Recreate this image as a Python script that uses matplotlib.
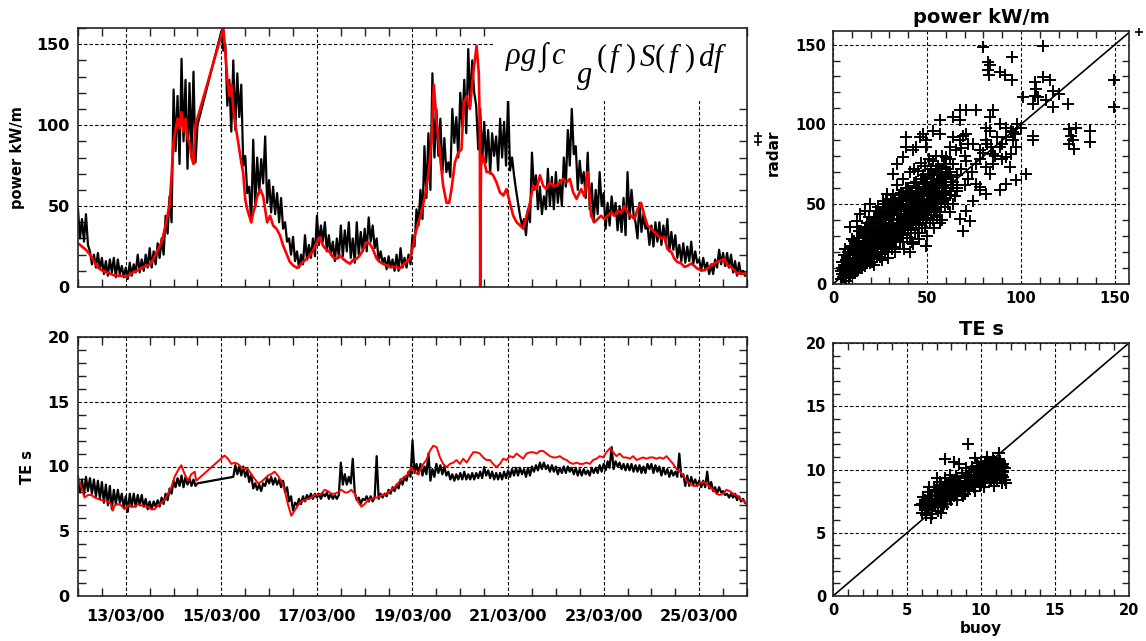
import numpy as np
import matplotlib
matplotlib.use('Agg')
import matplotlib.pyplot as plt
from matplotlib.ticker import MultipleLocator, FixedLocator
from matplotlib.patches import Rectangle

plt.rcParams['font.family'] = ['DejaVu Sans']
plt.rcParams['font.weight'] = 'bold'
plt.rcParams['mathtext.fontset'] = 'custom'
plt.rcParams['mathtext.it'] = 'Liberation Serif:italic:normal'
plt.rcParams['mathtext.rm'] = 'Liberation Serif:normal'
plt.rcParams['mathtext.fallback'] = 'stix'

nan = np.nan

# time axis: hours since 12/03/00 00:00
date_ticks = [24, 72, 120, 168, 216, 264, 312]
date_labels = ['13/03/00', '15/03/00', '17/03/00', '19/03/00',
               '21/03/00', '23/03/00', '25/03/00']

# buoy wave power (kW/m), hourly, one row per day, nan = no data
buoy_power = [
    48, 30, 42, 28, 45, 26, 22, 14, 20, 12, 21, 11, 18, 8, 16, 7, 17, 9, 18, 6, 17, 8, 13, 6,
    12, 5, 15, 7, 14, 9, 20, 9, 17, 10, 20, 12, 24, 12, 22, 14, 27, 18, 30, 20, 44, 33, 56, 40,
    122, 84, 118, 76, 141, 90, 128, 73, 126, 82, 133, 77, 100,
    nan, nan, nan, nan, nan, nan, nan, nan, nan, nan, nan,
    158, 146, 150, 112, 128, 96, 140, 97, 132, 105, 125, 75, 81, 58, 62, 40, 91, 50, 80, 58, 79, 64, 93, 52,
    66, 46, 62, 45, 58, 40, 55, 36, 40, 28, 30, 20, 31, 16, 22, 12, 20, 14, 32, 17, 26, 18, 30, 19,
    44, 26, 38, 28, 40, 22, 32, 20, 28, 16, 30, 18, 38, 19, 35, 22, 40, 18, 30, 15, 40, 20, 34, 22,
    36, 22, 43, 28, 38, 24, 30, 16, 22, 15, 18, 11, 19, 12, 17, 10, 20, 10, 24, 12, 18, 12, 20, 14,
    32, 25, 48, 38, 60, 42, 87, 55, 95, 60, 132, 80, 110, 81, 104, 70, 92, 71, 77, 68, 110, 89, 105, 80,
    120, 99, 128, 95, 147, 112, 140, 120, 112, 85, 110, 78, 102, 77, 97, 70, 95, 81, 93, 72, 104, 80, 102, 75,
    117, 72, 80, 69, 60, 52, 44, 38, 42, 32, 48, 40, 83, 60, 69, 48, 62, 45, 56, 48, 73, 50, 68, 48,
    71, 52, 66, 50, 80, 62, 97, 75, 110, 82, 87, 60, 78, 64, 71, 55, 83, 48, 64, 40, 60, 45, 71, 50,
    58, 36, 52, 38, 56, 45, 52, 35, 50, 34, 55, 32, 71, 42, 60, 45, 40, 30, 52, 34, 45, 36, 38, 26,
    38, 25, 40, 28, 40, 26, 38, 28, 42, 22, 34, 23, 32, 18, 26, 16, 27, 15, 25, 16, 28, 14, 22, 15,
    17, 10, 18, 11, 15, 8, 14, 8, 17, 12, 23, 14, 21, 13, 21, 12, 20, 9, 16, 7, 15, 8, 10, 7]

# radar wave power (kW/m)
radar_power_hours = [
    0, 2, 4, 6, 8, 10, 12, 14, 16, 18, 20, 22, 24, 26, 28, 30, 32, 34, 36, 38,
    40, 42, 44, 46, 47, 48, 49, 50, 51, 52, 53, 54, 55, 56, 57, 58, 59, 73, 74, 75,
    76, 77, 78, 79, 80, 81, 82, 83, 84, 85, 86, 87, 88, 89, 90, 91.5, 93, 94, 95, 96.5,
    98, 99.7, 101.4, 103, 105, 106.4, 108, 110, 111.5, 113, 115, 116.5, 118, 120, 121.5,
    123, 125, 126.5, 128, 130, 131.5, 133, 135, 136.6, 138, 140, 141.6, 143, 145, 146.6,
    148, 150, 151.6, 153, 155, 156.6, 158, 160, 161.6, 163, 165, 166.7, 168.4, 169.2, 171,
    172.5, 174.2, 176, 177.6, 178.7, 180, 181.8, 183.4, 185.1, 186.4, 187.6, 189.3, 191,
    192.6, 193.8, 195.2, 196.8, 198.5, 200.2, 201.3, 201.8, 202.0, 202.4, 203.5, 205.2,
    206.9, 208.5, 210.2, 211.9, 213.6, 215.2, 216.9, 218.6, 220.3, 222, 223.6, 225.3, 227,
    228.6, 230.3, 232, 233.6, 235.3, 237, 238.7, 240.3, 242, 243.7, 245.4, 247, 248.7,
    250.4, 252.7, 254.3, 256, 257.7, 259.4, 261, 262.7, 264.4, 266, 267.7, 269.4, 271,
    272.8, 274.4, 276, 277.8, 279.5, 281, 282.8, 284.5, 286, 287.8, 289.5, 291, 293,
    294.5, 296, 298, 299.5, 301, 303, 304.6, 306, 308, 309.6, 311, 313, 314.6, 316, 318,
    319.6, 321, 323, 324.6, 326, 328, 329.7, 331, 333, 334.7, 336]
radar_power = [
    27, 25, 23, 20, 16, 12, 10.3, 9.3, 8.3, 7.3, 7, 6.9, 6.2, 7.7, 9.3, 10.3, 11.8, 13, 13.8, 17.5,
    22.6, 27.8, 38, 51, 69, 90, 97, 104, 98, 108, 96, 104, 92, 89, 80, 76, 100, 160, 145, 128,
    118, 125, 110, 100, 93, 85, 77, 70, 54, 48, 44, 40, 46, 50, 56, 60.5, 56, 48, 40, 44,
    38, 36, 32, 25.7, 19.6, 15.5, 13.4, 11.8, 13.4, 15.5, 17.5, 19.6, 22.6, 27.8, 30.8,
    25.7, 22.6, 21.6, 18.5, 17.5, 19.6, 17.5, 15.5, 14.4, 16.5, 17.5, 19.6, 22.6, 27.8, 26.7,
    23.6, 17.5, 15.5, 14.4, 13.4, 12.4, 12.4, 12.4, 11.4, 13.4, 15.5, 17.5, 25.7, 32, 40,
    46, 56, 69, 91, 125, 103.6, 81, 62.6, 52, 52, 60.5, 77, 83,
    85, 114, 118, 110, 132, 149, 132, 98, 0, 75, 81, 71,
    71, 69, 64.6, 58.5, 56.5, 60.5, 52, 44, 40, 38, 36, 44, 52,
    62.6, 60.5, 69, 62.6, 60.5, 64.6, 62.6, 62.6, 64.6, 66.7, 64.6, 66.7, 58.5,
    54.4, 60.5, 56, 71, 44, 40, 42, 44, 42, 44, 46, 44, 47,
    46, 50, 46, 44, 42, 48, 52, 44, 38, 36, 34, 32, 30,
    31, 23.6, 21.6, 17.5, 15.5, 14.5, 12.4, 13, 14.5, 13, 11.4, 10.3, 10.3, 11.4, 13.4,
    14.5, 15.5, 16.5, 17.5, 13.4, 12.4, 10.3, 8.3, 8.3, 8.3, 8.3]

# buoy energy period TE (s), hourly, one row per day, nan = no data
buoy_te = [
    9.2, 8.0, 9.0, 7.8, 9.2, 8.1, 9.1, 7.9, 9.0, 7.7, 8.9, 7.5, 8.8, 7.2, 8.6, 7.0, 8.5, 6.7, 8.2, 7.1, 8.2, 7.2, 7.9, 6.8,
    7.7, 6.5, 7.9, 6.9, 7.9, 6.9, 7.8, 7.0, 7.8, 6.9, 7.5, 6.7, 7.3, 6.7, 7.3, 6.9, 7.4, 6.9, 7.6, 7.1, 7.9, 7.4, 8.3, 7.9,
    8.9, 8.4, 9.1, 8.5, 9.3, 8.4, 9.2, 8.6, 9.1, 8.5, 9.0, 8.5, 8.7,
    nan, nan, nan, nan, nan, nan, nan, nan, nan, nan, nan,
    nan, nan, nan, nan, nan, nan,
    9.2, 10.1, 9.4, 10.0, 9.3, 10.0, 9.2, 9.7, 8.8, 9.4, 8.3, 8.7, 8.2, 8.6, 8.1, 8.7, 8.5, 9.1,
    8.7, 9.2, 8.6, 9.1, 8.6, 9.0, 8.4, 8.9, 8.0, 8.4, 7.3, 7.7, 6.6, 7.2, 7.0, 7.5, 7.1, 7.7, 7.3, 7.8, 7.5, 7.9, 7.5, 7.9,
    7.6, 7.9, 7.5, 7.9, 7.7, 8.0, 7.5, 7.9, 7.5, 7.8, 7.5, 7.8, 10.3, 8.6, 9.4, 8.6, 9.2, 8.7, 10.6, 8.0, 7.4, 7.6, 7.1, 7.5,
    7.4, 7.7, 7.3, 7.7, 7.3, 7.6, 10.8, 7.5, 7.9, 7.6, 7.9, 7.7, 8.2, 7.9, 8.4, 8.1, 8.6, 8.3, 9.0, 8.6, 9.2, 8.9, 9.6, 9.2,
    12.0, 9.5, 10.2, 9.4, 10.2, 9.3, 10.0, 9.4, 11.0, 8.9, 9.8, 9.2, 10.2, 9.5, 10.1, 9.4, 10.0, 9.3, 9.6, 9.0, 9.4, 8.9, 9.4, 9.0,
    9.5, 9.0, 9.6, 9.0, 9.4, 9.0, 9.5, 9.0, 9.5, 9.1, 9.6, 9.1, 9.95, 9.3, 9.7, 9.1, 9.6, 9.0, 9.5, 9.0, 9.5, 9.0, 9.6, 9.1,
    9.7, 9.2, 9.8, 9.3, 9.9, 9.3, 9.9, 9.4, 9.8, 9.2, 9.9, 9.3, 10.0, 9.6, 10.1, 9.7, 10.3, 9.8, 10.3, 9.8, 10.1, 9.6, 10.1, 9.6,
    10.0, 9.4, 9.9, 9.5, 10.0, 9.5, 10.0, 9.6, 9.9, 9.4, 9.9, 9.3, 9.8, 9.3, 9.8, 9.4, 9.7, 9.3, 9.9, 9.5, 9.9, 9.5, 10.1, 9.6,
    10.2, 9.7, 10.4, 9.9, 11.5, 9.8, 10.4, 10.0, 10.3, 9.8, 10.2, 9.7, 10.2, 9.7, 10.2, 9.6, 10.1, 9.6, 10.1, 9.5, 10.0, 9.5, 10.2, 9.8,
    10.2, 9.5, 10.1, 9.6, 10.0, 9.3, 9.9, 9.4, 9.8, 9.2, 9.7, 9.3, 9.6, 9.2, 11.0, 9.2, 9.4, 8.5, 9.3, 8.5, 9.2, 8.6, 9.0, 8.5,
    8.9, 8.4, 8.9, 8.4, 9.6, 8.3, 8.8, 8.1, 8.4, 7.9, 8.4, 8.0, 8.1, 7.8, 7.9, 7.6, 7.9, 7.6, 7.9, 7.4, 7.7, 7.3, 7.5, 7.2]

# radar energy period TE (s)
radar_te_hours = [
    0, 1.7, 3.3, 5, 6.7, 8.4, 10, 11.7, 13.4, 15, 16.7, 17.5, 18.4, 20, 21.7, 23.4, 25.1,
    26.8, 28.5, 30.1, 31.8, 33.5, 35.1, 36.8, 38.5, 40.2, 41.8, 43.5, 45.2, 46.9, 48.5,
    50.2, 51.9, 53.6, 55.2, 56.9, 58.6, 59.4, 73.6, 75.3, 77, 78.7, 80.3, 82, 83.7, 85.4,
    87, 88.7, 90.4, 92, 93.7, 95.4, 97, 98.7, 100.4, 102, 103.8, 105.4, 107.1, 108.8,
    110.5, 112, 113.8, 115.5, 117.2, 118.8, 120.5, 122.2, 123.8, 125.5, 127.2, 128.9,
    130.5, 132.2, 134, 135.6, 137.2, 139, 140.6, 142.3, 144, 145.6, 147.3, 149, 150.6,
    152.3, 154, 155.6, 157.3, 159, 160.7, 162.3, 164, 165.7, 167.4, 169, 170.7, 171.7,
    173.4, 175, 176.7, 178.4, 180.1, 181.8, 183.4, 185.1, 186.8, 188.5, 190.1, 191.8,
    193.5, 195.2, 196.8, 198.5, 200.2, 201.8, 203.5, 205.2, 206.9, 208.5, 210.2, 211.9,
    213.6, 215.2, 216.9, 218.6, 220.3, 221.9, 223.6, 225.3, 227, 228.6, 230.3, 232,
    233.6, 235.3, 237, 238.7, 240.3, 242, 243.7, 245.4, 247, 248.7, 250.4, 252, 253.7,
    255.4, 257.1, 258.7, 260.4, 262.1, 263.8, 265.4, 267.1, 268.8, 270.4, 272.1, 273.8,
    275.5, 277.2, 278.8, 280.5, 282.2, 283.8, 285.5, 287.2, 288.9, 290.5, 292.2, 293.9,
    295.6, 297.2, 298.9, 300.6, 302.3, 304, 305.6, 307.3, 309, 310.7, 312.3, 314, 315.6,
    317.3, 319, 320.7, 322.3, 324, 325.7, 327.3, 329, 330.7, 332.4, 334, 335.7]
radar_te = [
    9.05, 8.4, 7.6, 7.8, 7.8, 7.6, 7.5, 7.4, 7.4, 7.3, 7.1, 6.6, 7.0, 7.1, 7.0, 6.7, 7.0,
    6.9, 6.9, 7.1, 7.0, 6.9, 6.9, 6.7, 6.7, 7.0, 7.2, 7.4, 7.9, 8.4, 9.2,
    9.7, 10.1, 9.4, 8.9, 9.4, 9.6, 8.9, 10.85, 10.6, 10.2, 10.3, 10.2, 9.95, 9.8, 9.8,
    9.4, 9.05, 8.7, 8.8, 9.05, 9.3, 9.4, 9.6, 9.3, 8.9, 8.2, 7.1, 6.2, 6.6,
    7.0, 7.3, 7.4, 7.5, 7.6, 7.8, 7.8, 7.9, 8.2, 8.1, 7.9, 7.9,
    8.0, 8.2, 8.0, 8.0, 8.2, 7.9, 7.3, 6.9, 7.1, 7.4, 7.5, 7.6, 7.6,
    7.8, 7.8, 8.0, 8.2, 8.4, 8.7, 9.0, 9.2, 9.4, 9.95, 9.6, 9.4, 9.7,
    10.2, 10.5, 11.2, 11.6, 11.5, 10.7, 10.2, 9.95, 10.2, 10.3, 10.5, 10.2,
    10.6, 10.3, 10.7, 11.1, 11.1, 11.0, 10.7, 10.5, 10.5, 10.2, 9.95, 10.2,
    10.6, 10.5, 10.8, 10.7, 11.0, 10.8, 10.6, 11.0, 11.1, 11.1, 11.0, 11.2,
    11.2, 11.0, 10.8, 10.7, 10.7, 10.8, 10.6, 10.5, 10.3, 10.2, 10.3, 10.2, 10.2,
    10.3, 10.2, 10.5, 10.6, 10.8, 10.7, 11.1, 11.4, 11.1, 10.8, 11.0, 10.7,
    10.7, 10.6, 10.8, 10.5, 10.6, 10.7, 10.6, 10.7, 10.7, 10.6, 10.7, 10.6,
    10.8, 10.5, 10.2, 9.8, 9.6, 9.3, 8.9, 8.7, 8.5, 8.5, 8.7, 8.8, 8.7,
    8.4, 8.2, 7.9, 7.8, 7.9, 8.2, 8.1, 7.9, 7.8, 7.5, 7.4, 7.1]

# scatter: power, (buoy, radar)
power_pairs = [
    (4.5, 3), (5, 6), (5.5, 9), (6, 12), (6.5, 4), (7, 15), (7.5, 7), (8, 10), (4, 8), (6, 18),
    (7, 2), (8, 13), (5, 14), (8, 20), (6.5, 22),
    (9, 5), (9.5, 9), (10, 12), (10.5, 16), (11, 19), (9, 23), (11.5, 7), (12, 11), (12, 25),
    (10, 28), (11, 14), (12, 18), (9, 15), (10.5, 21),
    (13, 8), (13.5, 13), (14, 16), (14.5, 20), (15, 24), (13, 29), (15.5, 10), (16, 15),
    (16, 30), (14, 33), (15, 19), (16, 22), (13, 36), (14, 26),
    (17, 11), (17.5, 17), (18, 21), (18.5, 25), (19, 29), (17, 35), (19.5, 13), (20, 18),
    (20, 33), (18, 38), (19, 42), (20, 24), (17, 46), (18, 15),
    (21, 14), (21.5, 20), (22, 24), (22.5, 28), (23, 32), (21, 38), (23.5, 17), (24, 22),
    (24, 36), (22, 42), (23, 46), (24, 29), (21, 30), (22, 12),
    (25, 17), (25.5, 23), (26, 27), (26.5, 31), (27, 35), (25, 41), (27.5, 20), (28, 25),
    (28, 40), (26, 45), (27, 50), (28, 31), (25, 36), (26, 15),
    (29, 20), (29.5, 26), (30, 30), (30.5, 34), (31, 38), (29, 44), (31.5, 22), (32, 28),
    (32, 43), (30, 48), (31, 53), (32, 36), (29, 16), (30, 24),
    (33, 23), (33.5, 29), (34, 33), (34.5, 37), (35, 41), (33, 47), (35.5, 26), (36, 31),
    (36, 46), (34, 51), (35, 56), (36, 38), (33, 20), (34, 62),
    (37, 26), (37.5, 32), (38, 36), (38.5, 40), (39, 44), (37, 50), (39.5, 29), (40, 34),
    (40, 49), (38, 55), (39, 60), (40, 42), (37, 66), (38, 22),
    (41, 29), (41.5, 35), (42, 39), (42.5, 43), (43, 47), (41, 53), (43.5, 32), (44, 37),
    (44, 52), (42, 58), (43, 63), (44, 45), (41, 70), (42, 26), (43, 72),
    (45, 32), (45.5, 38), (46, 42), (46.5, 46), (47, 50), (45, 56), (47.5, 35), (48, 40),
    (48, 55), (46, 61), (47, 66), (48, 48), (45, 71), (46, 28), (47, 76),
    (49, 35), (49.5, 41), (50, 45), (50.5, 49), (51, 53), (49, 59), (51.5, 38), (52, 43),
    (52, 58), (50, 64), (51, 69), (52, 51), (49, 74), (50, 30), (51, 78),
    (53, 40), (53.5, 46), (54, 50), (54.5, 54), (55, 58), (53, 63), (55.5, 42), (56, 48),
    (56, 62), (54, 68), (55, 72), (56, 55), (53, 77), (54, 35), (55, 80),
    (57, 45), (57.5, 52), (58, 56), (58.5, 60), (59, 64), (57, 68), (59.5, 48), (60, 54),
    (60, 66), (58, 72), (59, 75), (60, 58), (57, 38), (58, 40),
    (61, 50), (62, 56), (63, 60), (64, 64), (61, 70), (65, 55), (62, 45), (63, 67), (66, 60),
    (64, 50), (62, 70), (64, 75), (66, 68), (68, 72), (70, 80), (72, 66), (66, 58), (70, 62),
    (74, 70), (64, 62), (68, 85), (72, 88), (60, 72), (62, 78), (58, 80),
    (78, 78), (80, 82), (84, 86), (90, 88), (86, 80), (92, 92), (98, 100), (96, 90),
    (100, 98), (90, 78), (82, 88),
    (5.5, 4.5), (6.5, 7.5), (7.5, 10.5), (8.5, 4), (9.5, 12.5), (10.5, 8), (11.5, 12),
    (12.5, 15), (13.5, 9), (14.5, 12), (15.5, 17), (16.5, 20), (17.5, 13), (18.5, 18),
    (19.5, 22), (20.5, 16), (21.5, 26), (22.5, 19), (23.5, 22), (24.5, 26), (25.5, 19),
    (26.5, 24), (27.5, 29), (28.5, 22), (29.5, 32), (30.5, 27), (31.5, 31), (32.5, 35),
    (33.5, 26), (34.5, 30), (35.5, 35), (36.5, 40), (37.5, 29), (38.5, 34), (39.5, 38),
    (40.5, 45), (41.5, 32), (42.5, 37), (43.5, 41), (44.5, 48), (45.5, 35), (46.5, 40),
    (47.5, 44), (48.5, 51), (49.5, 38), (50.5, 43), (51.5, 47), (52.5, 55), (53.5, 43),
    (54.5, 47), (55.5, 51), (56.5, 58), (57.5, 48), (58.5, 53), (59.5, 57),
    (6, 10.5), (7, 13.5), (8, 16.5), (9, 19), (10, 24), (11, 27), (12, 21), (13, 24),
    (14, 29), (15, 33), (16, 27), (17, 31), (18, 34), (19, 36), (20, 39), (21, 34),
    (22, 36), (23, 39), (24, 42), (25, 45), (26, 38), (27, 42), (28, 46), (29, 49),
    (30, 42), (31, 45), (32, 49), (33, 53), (34, 44), (35, 48), (36, 52), (37, 56),
    (38, 46), (39, 50), (40, 54), (41, 58), (42, 49), (43, 53), (44, 57), (45, 61),
    (46, 52), (47, 56), (48, 60), (49, 64), (50, 56), (51, 60), (52, 64), (53, 68),
    (54, 58), (55, 62), (56, 66), (57, 70), (58, 62), (59, 66), (60, 70), (56, 74),
    (52, 72), (48, 68), (44, 64), (40, 60), (36, 57), (32, 56), (28, 52), (24, 48),
    (5, 10), (6, 5), (7, 9), (8, 7), (9, 11), (10, 7), (11, 10), (12, 14), (13, 18),
    (14, 11), (15, 14), (16, 18), (17, 22), (18, 26), (19, 17), (20, 21), (21, 24),
    (22, 29), (23, 25), (24, 19), (25, 28), (26, 33), (27, 26), (28, 36), (29, 29),
    (30, 37), (31, 33), (32, 40), (33, 35), (34, 41), (35, 37), (36, 43), (37, 39),
    (38, 44), (39, 41), (40, 47), (41, 43), (42, 48), (43, 44), (44, 50), (45, 46),
    (46, 50), (47, 47), (48, 53), (49, 50), (50, 52), (51, 56), (52, 50), (53, 56),
    (54, 62), (55, 54), (56, 60), (57, 63), (58, 67), (59, 60),
    (79.8, 148.5), (82.5, 139), (83.4, 137), (82.5, 134), (83, 131), (95.2, 142), (91.3, 131),
    (88.7, 133), (95.2, 128), (111.7, 149), (107.3, 126.6), (108, 122), (111.7, 129.7),
    (115.2, 127.6), (117, 121), (120.5, 119), (107.3, 118), (109, 117), (113.5, 115),
    (117, 111), (106.4, 113), (125, 113), (101, 117), (149.7, 127.6), (149.7, 111),
    (125.8, 97), (129.4, 98), (136.5, 96), (126.7, 93), (125.8, 88), (128.5, 84.7),
    (136.5, 89), (127.7, 90), (106.4, 93), (106.4, 90), (102.8, 69), (97.5, 65), (88.7, 58.6),
    (92.2, 62.8), (81.6, 56.5), (78, 58.6), (78, 60.7), (76.3, 62.8), (71, 46), (72.7, 39.7),
    (69.2, 33.5), (67.4, 40.8), (74.5, 52), (92.2, 79.5), (94.9, 81.6), (94, 73),
    (97.5, 85.8), (96.6, 94), (95.7, 95), (94.9, 96), (88.7, 100.4), (92.2, 98),
    (85.1, 108.8), (83.4, 104.6), (81.6, 98), (83.4, 96), (87, 92), (81.6, 90),
    (76.3, 108.8), (71, 108.8), (67.4, 108.8), (63.9, 104.6), (56.8, 102.5), (67.4, 102.5),
    (71, 94), (69.2, 93), (74.5, 88), (78, 83.7), (85.1, 81.6), (88.7, 85.8), (83.4, 69),
    (81.6, 73), (76.3, 75), (85.1, 75), (71, 77), (65.7, 83.7), (67.4, 90), (63.9, 92),
    (62.1, 85.8), (60.2, 79.5), (56.8, 94), (53.3, 96), (47.9, 94), (46.2, 92), (49.6, 90),
    (49.6, 85.8), (44.4, 85.8), (39.1, 92), (39.1, 85.8), (42.7, 83.7), (37.3, 79.5),
    (34, 75.3), (32, 69), (28.5, 56.5), (26.7, 52.3), (19.6, 50.2), (14.3, 44), (12.6, 39.7),
    (9, 35.6), (42.7, 25), (49.6, 24), (40.9, 20)]
# stray symbols drawn outside the frame
power_stray = [(-40, 93), (-40, 89), (163, 158)]

# scatter: TE, (buoy, radar)
te_pairs = [
    (5.9, 7.2), (6.0, 6.6), (6.1, 7.8), (6.2, 7.0), (6.3, 6.4), (6.4, 7.5), (6.4, 8.2),
    (6.5, 6.8), (6.6, 7.3), (6.7, 7.9), (6.7, 6.5), (6.8, 8.6), (6.9, 7.1), (7.0, 7.6),
    (7.0, 8.2), (7.1, 6.7), (7.2, 9.0), (7.2, 7.4), (7.3, 8.0), (7.4, 8.6), (7.4, 7.0),
    (7.5, 7.7), (7.6, 9.3), (7.6, 8.3), (7.7, 7.3), (7.8, 8.8), (7.8, 7.9), (7.9, 9.6),
    (8.0, 7.6), (8.0, 8.4), (8.1, 9.0), (8.2, 7.9), (8.3, 8.6), (8.3, 9.5), (8.4, 8.0),
    (8.5, 9.1), (8.6, 8.3), (8.7, 9.7), (8.8, 8.5), (8.8, 7.9), (8.9, 9.3), (9.0, 8.7),
    (9.0, 10.1), (9.1, 8.4), (9.2, 9.6), (9.3, 8.9), (9.4, 10.2), (9.5, 9.2), (9.5, 8.6),
    (9.6, 9.8), (9.7, 10.5), (9.7, 9.0), (9.8, 9.5), (9.9, 10.1), (9.9, 8.8), (10.0, 9.7),
    (10.0, 10.6), (10.1, 9.2), (10.2, 10.2), (10.2, 8.9), (10.3, 9.8), (10.4, 10.7),
    (10.4, 9.4), (10.5, 10.1), (10.6, 9.1), (10.6, 10.5), (10.7, 9.7), (10.8, 10.9),
    (10.8, 9.3), (10.9, 10.2), (11.0, 9.6), (11.0, 10.6), (11.1, 9.2), (11.2, 10.0),
    (11.2, 10.8), (11.3, 9.5), (11.4, 10.3), (11.5, 9.8), (11.6, 9.2), (11.6, 10.1),
    (11.2, 11.3), (10.4, 11.0), (9.6, 10.9), (8.5, 10.4), (7.6, 10.8), (9.1, 12.0),
    (8.2, 10.6), (11.7, 8.9), (7.0, 9.3), (6.5, 8.6), (9.3, 9.9), (10.9, 8.7), (6.0, 7.3),
    (6.6, 6.2), (7.3, 6.6), (8.4, 7.6), (9.6, 8.3), (10.2, 8.6), (11.4, 8.9),
    (6.2, 7.6), (6.4, 6.9), (6.6, 7.7), (6.8, 7.2), (6.9, 8.0), (7.1, 7.9), (7.2, 8.5),
    (7.3, 7.2), (7.5, 8.2), (7.6, 7.5), (7.7, 8.9), (7.9, 8.1), (8.0, 9.2), (8.1, 8.1),
    (8.2, 8.8), (8.4, 9.3), (8.5, 8.3), (8.6, 8.9), (8.7, 8.1), (8.9, 8.6), (9.0, 9.4),
    (9.1, 9.0), (9.2, 8.6), (9.3, 9.6), (9.4, 9.2), (9.5, 9.9), (9.6, 9.4), (9.7, 9.8),
    (9.8, 9.0), (9.8, 10.3), (9.9, 9.6), (10.0, 9.1), (10.1, 10.2), (10.1, 9.9), (10.2, 9.5),
    (10.3, 10.5), (10.4, 10.0), (10.5, 9.6), (10.5, 10.6), (10.6, 9.9), (10.7, 10.4),
    (10.7, 9.2), (10.8, 10.1), (10.9, 9.6), (10.9, 10.7), (11.0, 10.0), (11.1, 10.4),
    (11.1, 9.8), (11.3, 10.2), (11.3, 10.7), (11.4, 9.6), (11.5, 10.4), (11.5, 9.4),
    (9.4, 8.7), (8.9, 8.1), (8.4, 8.6), (7.9, 8.6), (7.4, 7.9), (6.9, 7.5), (6.5, 7.2),
    (6.3, 7.3), (6.5, 7.9), (6.7, 7.0), (6.9, 8.4), (7.1, 7.3), (7.3, 8.8), (7.5, 7.3),
    (7.7, 8.0), (7.9, 7.7), (8.1, 8.6), (8.3, 8.2), (8.5, 8.7), (8.7, 8.6), (8.9, 9.0),
    (9.1, 9.3), (9.3, 9.2), (9.5, 9.5), (9.7, 9.4), (9.9, 9.9), (10.1, 9.5), (10.3, 10.1),
    (10.5, 9.3), (10.7, 10.0), (10.9, 9.9), (11.1, 10.1), (11.3, 9.9), (11.5, 10.2),
    (10.0, 10.3), (10.6, 10.2), (11.0, 9.3)]

W, H = 1146, 641
fig = plt.figure(figsize=(W / 100, H / 100), dpi=100)

grid_kw = dict(color='black', linestyle=(0, (3, 2)), linewidth=0.8)


def frame(ax):
    for s in ax.spines.values():
        s.set_linewidth(1.2)
        s.set_color('#222222')
        s.set_zorder(5)
    ax.tick_params(which='both', direction='in', top=True, right=True,
                   width=1.0, color='#222222')
    ax.tick_params(which='major', length=0, labelsize=11.5, pad=6)
    ax.tick_params(which='minor', length=6)
    ax.grid(True, which='major', **grid_kw)


# ---------- time series: power ----------
ax1 = fig.add_axes([78 / W, 1 - 287 / H, 669 / W, 259 / H])
t1 = np.arange(len(buoy_power))
bp = np.array(buoy_power, dtype=float)
ok = np.isfinite(bp)
ax1.plot(t1[ok], bp[ok], color='black', lw=1.6, zorder=2)
ax1.plot(radar_power_hours, radar_power, color='red', lw=1.9, zorder=2.1)
ax1.set_xlim(0, 336)
ax1.set_ylim(0, 160)
ax1.xaxis.set_major_locator(FixedLocator(date_ticks))
ax1.xaxis.set_minor_locator(MultipleLocator(12))
ax1.set_xticklabels([])
ax1.set_yticks([0, 50, 100, 150])
ax1.yaxis.set_minor_locator(MultipleLocator(10))
frame(ax1)
ax1.set_ylabel('power kW/m', fontsize=10.5, fontweight='bold')
ax1.yaxis.set_label_coords(-0.079, 0.5)
ax1.add_patch(Rectangle((0.62, 0.72), 0.38, 0.28, transform=ax1.transAxes,
                        facecolor='white', edgecolor='none', zorder=3))
eq_kw = dict(transform=ax1.transAxes, va='center', fontsize=22,
             fontweight='normal', zorder=6)
ax1.text(0.638, 0.885, r'$\rho g\,\int\,c$', ha='left', **eq_kw)
ax1.text(0.757, 0.81, r'$g$', ha='center', **eq_kw)
ax1.text(0.775, 0.885, r'$(\,f\ )\,S(\,f\ )\,df$', ha='left', **eq_kw)

# ---------- time series: TE ----------
ax3 = fig.add_axes([78 / W, 1 - 596 / H, 669 / W, 259 / H])
t3 = np.arange(len(buoy_te))
bt = np.array(buoy_te, dtype=float)
ok = np.isfinite(bt)
ax3.plot(t3[ok], bt[ok], color='black', lw=1.6, zorder=2)
ax3.plot(radar_te_hours, radar_te, color='red', lw=1.4, zorder=2.1)
ax3.set_xlim(0, 336)
ax3.set_ylim(0, 20)
ax3.xaxis.set_major_locator(FixedLocator(date_ticks))
ax3.set_xticklabels(date_labels)
ax3.xaxis.set_minor_locator(MultipleLocator(12))
ax3.set_yticks([0, 5, 10, 15, 20])
ax3.yaxis.set_minor_locator(MultipleLocator(1))
frame(ax3)
ax3.tick_params(axis='x', which='major', pad=9)
ax3.set_ylabel('TE s', fontsize=10.5, fontweight='bold')
ax3.yaxis.set_label_coords(-0.064, 0.5)

# ---------- scatter: power ----------
ax2 = fig.add_axes([833 / W, 1 - 284 / H, 296 / W, 253 / H])
pb, pr = np.array(power_pairs).T
ax2.plot([0, 160], [0, 160], color='black', lw=1.2, zorder=2)
ax2.plot(pb, pr, 'k+', ms=8, mew=1.4, zorder=3)
sb, sr = np.array(power_stray).T
ax2.plot(sb, sr, 'k+', ms=6, mew=1.2, clip_on=False)
ax2.set_xlim(0, 157.5)
ax2.set_ylim(0, 158.5)
ax2.set_xticks([0, 50, 100, 150])
ax2.set_yticks([0, 50, 100, 150])
ax2.xaxis.set_minor_locator(MultipleLocator(10))
ax2.yaxis.set_minor_locator(MultipleLocator(10))
frame(ax2)
ax2.tick_params(which='major', labelsize=10.5, pad=5)
ax2.tick_params(which='minor', length=5)
ax2.set_title('power kW/m', fontsize=14, fontweight='bold', pad=6)
ax2.set_ylabel('radar', fontsize=11, fontweight='bold')
ax2.yaxis.set_label_coords(-0.175, 0.52)

# ---------- scatter: TE ----------
ax4 = fig.add_axes([833 / W, 1 - 596 / H, 296 / W, 253 / H])
tb, tr = np.array(te_pairs).T
ax4.plot([0, 20], [0, 20], color='black', lw=1.2, zorder=2)
ax4.plot(tb, tr, 'k+', ms=8, mew=1.5, zorder=3)
ax4.set_xlim(0, 20)
ax4.set_ylim(0, 20)
ax4.set_xticks([0, 5, 10, 15, 20])
ax4.set_yticks([0, 5, 10, 15, 20])
ax4.xaxis.set_minor_locator(MultipleLocator(1))
ax4.yaxis.set_minor_locator(MultipleLocator(1))
frame(ax4)
ax4.tick_params(which='major', labelsize=10.5, pad=5)
ax4.tick_params(which='minor', length=5)
ax4.set_title('TE s', fontsize=14, fontweight='bold', pad=6)
ax4.set_xlabel('buoy', fontsize=11, fontweight='bold')
ax4.xaxis.set_label_coords(0.5, -0.1)

fig.savefig('out.png', dpi=100)
